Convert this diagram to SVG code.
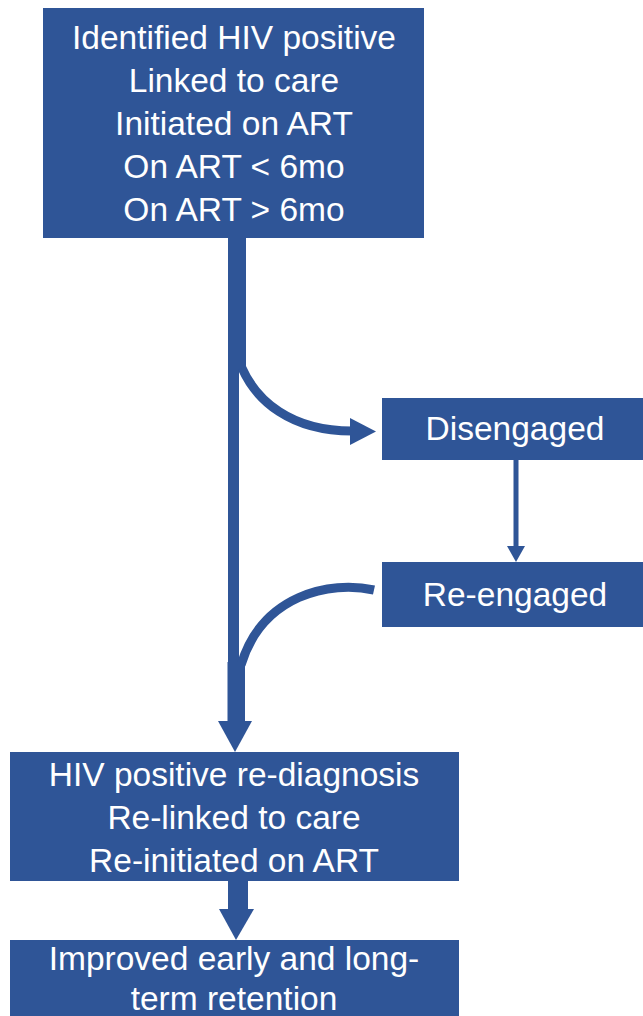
<svg xmlns="http://www.w3.org/2000/svg" width="643" height="1016" viewBox="0 0 643 1016">
<style>
.box{fill:#2F5597;}
.t{fill:#FFFFFF;font-family:"Liberation Sans",Arial,sans-serif;font-size:33.5px;text-anchor:middle;}
.fill{fill:#2F5597;}
.ln{fill:none;stroke:#2F5597;}
</style>
<rect width="643" height="1016" fill="#FFFFFF"/>
<g id="connectors">
<rect class="fill" x="228" y="237" width="18" height="134"/>
<rect class="fill" x="228" y="370" width="11" height="296"/>
<path class="ln" stroke-width="9" d="M242 368 C256 400 290 431 352 431"/>
<polygon class="fill" points="350,418 376,431.5 350,445"/>
<path class="ln" stroke-width="9" d="M374 590 C330 580 262 595 241 665"/>
<rect class="fill" x="227.5" y="662" width="17.5" height="61"/>
<polygon class="fill" points="218,721 252,721 235,752"/>
<rect class="fill" x="513.5" y="459" width="5" height="89"/>
<polygon class="fill" points="507,546 525,546 516,562"/>
<rect class="fill" x="228" y="880" width="20" height="30"/>
<polygon class="fill" points="219,909 254,909 236,940"/>
</g>
<g id="node-identified">
<rect class="box" x="43" y="8" width="381" height="230"/>
<text class="t" x="234" y="48.5">Identified HIV positive</text>
<text class="t" x="234" y="91.5">Linked to care</text>
<text class="t" x="234" y="134.5">Initiated on ART</text>
<text class="t" x="234" y="177.5">On ART &lt; 6mo</text>
<text class="t" x="234" y="220.5">On ART &gt; 6mo</text>
</g>
<g id="node-disengaged">
<rect class="box" x="382" y="398" width="261" height="62"/>
<text class="t" x="515" y="440">Disengaged</text>
</g>
<g id="node-reengaged">
<rect class="box" x="382" y="562" width="261" height="65"/>
<text class="t" x="515" y="606">Re-engaged</text>
</g>
<g id="node-rediagnosis">
<rect class="box" x="10" y="752" width="449" height="129"/>
<text class="t" x="234" y="786">HIV positive re-diagnosis</text>
<text class="t" x="234" y="829">Re-linked to care</text>
<text class="t" x="234" y="872">Re-initiated on ART</text>
</g>
<g id="node-retention">
<rect class="box" x="10" y="940" width="449" height="80"/>
<text class="t" x="234" y="970">Improved early and long-</text>
<text class="t" x="234" y="1010">term retention</text>
</g>
</svg>
